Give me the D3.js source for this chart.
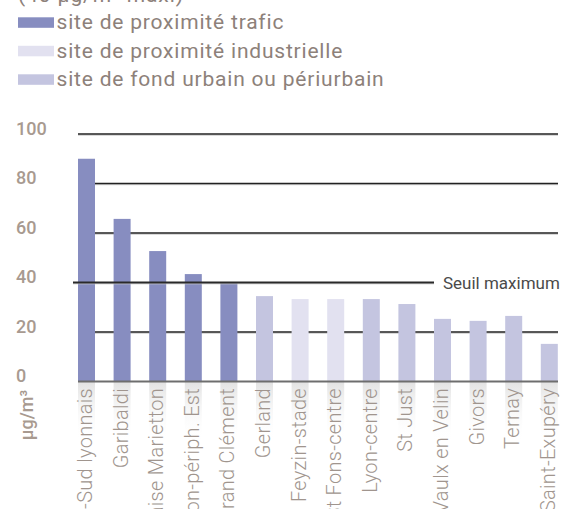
<!DOCTYPE html>
<html><head><meta charset="utf-8">
<script src="https://cdn.jsdelivr.net/npm/d3@7/dist/d3.min.js"></script>
<style>
html,body{margin:0;padding:0;background:#fff;overflow:hidden}
svg{display:block;font-family:Roboto,"Noto Sans",sans-serif}
</style></head>
<body><svg id="c" width="574" height="509"></svg>
<script>
const categories = ["A7-Sud lyonnais","Garibaldi","Vaise Marietton","Lyon-périph. Est","Grand Clément","Gerland","Feyzin-stade","St Fons-centre","Lyon-centre","St Just","Vaulx en Velin","Givors","Ternay","Saint-Exupéry"];
const values = [90, 65.7, 52.7, 43.4, 40, 34.5, 33.3, 33.3, 33.3, 31.3, 25.3, 24.5, 26.5, 15.2];
const siteTypes = ["trafic","trafic","trafic","trafic","trafic","fond","industriel","industriel","fond","fond","fond","fond","fond","fond"];
const legendKeys = ["trafic","industriel","fond"];
const legendLabels = ["site de proximité trafic","site de proximité industrielle","site de fond urbain ou périurbain"];
const yTicks = [0,20,40,60,80,100];
const threshold = 40;
const thresholdLabel = "Seuil maximum";
const unitLabel = "µg/m³";
const topNote = "(40 µg/m³ maxi)";

const color = d3.scaleOrdinal().domain(legendKeys).range(["#878dc0","#e2e1f0","#c4c5e0"]);
const svg = d3.select("#c");

const y = d3.scaleLinear().domain([0,100]).range([381.5,134]);
const x = d3.scaleBand().domain(categories).range([78,557.8]).paddingInner(1-17/35.6).paddingOuter(0);

// top note (clipped)
svg.append("text").attr("x",18).attr("y",2).attr("font-size",21).attr("letter-spacing",0.9).attr("fill","#8d817a").text(topNote);

// legend
const lg = svg.append("g");
legendKeys.forEach((k,i)=>{
  const yy = 17.3 + i*28.5;
  lg.append("rect").attr("x",18).attr("y",yy).attr("width",36).attr("height",10.5).attr("fill",color(k));
  lg.append("text").attr("x",56.5).attr("y",yy+11.7).attr("font-size",21).attr("letter-spacing",0.8).attr("fill","#8d817a").text(legendLabels[i]);
});

// gradient for reflection
const defs = svg.append("defs");
const gr = defs.append("linearGradient").attr("id","refl").attr("x1",0).attr("y1",0).attr("x2",0).attr("y2",1);
gr.append("stop").attr("offset","0%").attr("stop-color","#e2e2e2").attr("stop-opacity",1);
gr.append("stop").attr("offset","100%").attr("stop-color","#ffffff").attr("stop-opacity",0);

// gridlines (behind bars)
const grid = svg.append("g");
yTicks.filter(t=>t!==0 && t!==threshold).forEach(t=>{
  grid.append("line").attr("x1",78).attr("x2",558).attr("y1",y(t)+1.2).attr("y2",y(t)+1.2).attr("stroke","#c8c8c8").attr("stroke-width",1);
  grid.append("line").attr("x1",78).attr("x2",558).attr("y1",y(t)).attr("y2",y(t)).attr("stroke","#222").attr("stroke-width",1.3);
});

// reflections
svg.append("g").selectAll("rect").data(categories).join("rect")
  .attr("x",d=>x(d)).attr("y",y(0)).attr("width",x.bandwidth()).attr("height",60)
  .attr("fill","url(#refl)");

// bars
svg.append("g").selectAll("rect").data(categories).join("rect")
  .attr("x",d=>x(d)).attr("width",x.bandwidth())
  .attr("y",(d,i)=>y(values[i])).attr("height",(d,i)=>y(0)-y(values[i]))
  .attr("fill",(d,i)=>color(siteTypes[i]));

// threshold line
svg.append("line").attr("x1",73).attr("x2",434).attr("y1",y(threshold)+1.3).attr("y2",y(threshold)+1.3).attr("stroke","#c8c8c8").attr("stroke-width",1);
svg.append("line").attr("x1",73).attr("x2",434).attr("y1",y(threshold)).attr("y2",y(threshold)).attr("stroke","#2a2a2a").attr("stroke-width",2);
svg.append("text").attr("x",443).attr("y",y(threshold)+6.2).attr("font-size",17).attr("fill","#4a4a4a").text(thresholdLabel);

// baseline
svg.append("line").attr("x1",78).attr("x2",558).attr("y1",y(0)).attr("y2",y(0)).attr("stroke","#6e6e6e").attr("stroke-width",2.2);

// y tick labels
svg.append("g").selectAll("text").data(yTicks).join("text")
  .attr("x",16).attr("y",d=>y(d)+0.5).attr("font-size",18).attr("font-weight",500)
  .attr("fill","#a89a90").text(d=>d);

// unit label
svg.append("text").attr("transform","translate(33,415) rotate(-90)").attr("text-anchor","middle")
  .attr("font-size",18).attr("font-weight",500).attr("fill","#a89a90").text(unitLabel);

// category labels
svg.append("g").selectAll("text").data(categories).join("text")
  .attr("transform",d=>`translate(${x(d)+x.bandwidth()/2+5.5},388) rotate(-90)`)
  .attr("text-anchor","end").attr("font-size",20).attr("font-weight",300).attr("letter-spacing",0.3)
  .attr("fill","#a0958e").text(d=>d);
</script></body></html>
